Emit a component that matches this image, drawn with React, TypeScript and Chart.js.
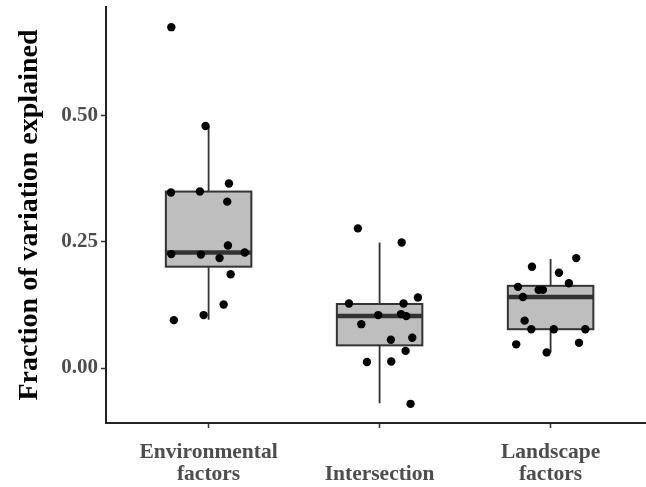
import React, { useEffect, useRef } from 'react';
import { Chart, registerables } from 'chart.js';

Chart.register(...registerables);

// ---- Data ----
const categories = ['Environmental\nfactors', '\nIntersection', 'Landscape\nfactors'];
const categoryPositions = [1, 2, 3];
const yTickValues = [0, 0.25, 0.5];

// box statistics per category
const boxQ1 = [0.201, 0.045, 0.077];
const boxMedian = [0.229, 0.103, 0.141];
const boxQ3 = [0.35, 0.127, 0.163];
const whiskerLow = [0.096, -0.07, 0.031];
const whiskerHigh = [0.48, 0.249, 0.216];

// jittered points (x = jittered category position, y = value)
const envX = [0.782, 0.982, 1.119, 0.78, 0.949, 1.109, 1.113, 0.782, 0.955, 1.211, 1.064, 1.129, 1.088, 0.971, 0.797];
const envY = [0.676, 0.48, 0.366, 0.348, 0.35, 0.33, 0.243, 0.226, 0.225, 0.229, 0.218, 0.186, 0.126, 0.105, 0.095];

const interX = [1.873, 2.129, 2.224, 1.821, 2.14, 1.992, 2.125, 2.156, 1.893, 2.191, 2.066, 2.152, 1.926, 2.068, 2.181];
const interY = [0.277, 0.249, 0.14, 0.128, 0.128, 0.105, 0.107, 0.103, 0.087, 0.06, 0.056, 0.034, 0.012, 0.013, -0.071];

const landX = [3.15, 2.891, 3.049, 3.107, 2.809, 2.93, 2.955, 2.838, 2.848, 2.887, 3.019, 3.203, 2.799, 3.166, 2.977];
const landY = [0.218, 0.201, 0.189, 0.168, 0.161, 0.155, 0.155, 0.141, 0.094, 0.077, 0.077, 0.077, 0.047, 0.05, 0.031];

const toPoints = (xs: number[], ys: number[]) => xs.map((x, i) => ({ x, y: ys[i] }));

const FONT = "'Liberation Serif', 'Times New Roman', serif";
const BOX_HALF = 0.25;

const boxPlugin = {
  id: 'boxes',
  beforeDatasetsDraw(chart: any) {
    const { ctx } = chart;
    const xs = chart.scales.x;
    const ys = chart.scales.y;
    ctx.save();
    categoryPositions.forEach((c, i) => {
      const xc = xs.getPixelForValue(c);
      const xl = xs.getPixelForValue(c - BOX_HALF);
      const xr = xs.getPixelForValue(c + BOX_HALF);
      const yq1 = ys.getPixelForValue(boxQ1[i]);
      const yq3 = ys.getPixelForValue(boxQ3[i]);
      const ymed = ys.getPixelForValue(boxMedian[i]);
      const ylo = ys.getPixelForValue(whiskerLow[i]);
      const yhi = ys.getPixelForValue(whiskerHigh[i]);
      ctx.strokeStyle = '#333333';
      ctx.lineWidth = 1.8;
      ctx.beginPath();
      ctx.moveTo(xc, yhi);
      ctx.lineTo(xc, yq3);
      ctx.moveTo(xc, yq1);
      ctx.lineTo(xc, ylo);
      ctx.stroke();
      ctx.fillStyle = '#BEBEBE';
      ctx.fillRect(xl, yq3, xr - xl, yq1 - yq3);
      ctx.lineWidth = 2;
      ctx.strokeRect(xl, yq3, xr - xl, yq1 - yq3);
      ctx.lineWidth = 4.5;
      ctx.beginPath();
      ctx.moveTo(xl, ymed);
      ctx.lineTo(xr, ymed);
      ctx.stroke();
    });
    ctx.restore();
  },
};

export default function App() {
  const ref = useRef<HTMLCanvasElement | null>(null);

  useEffect(() => {
    if (!ref.current) return;
    const pointStyle = {
      backgroundColor: '#000000',
      borderColor: '#000000',
      pointRadius: 4.2,
      pointBorderWidth: 0,
    };
    const chart = new Chart(ref.current, {
      type: 'scatter',
      data: {
        datasets: [
          { label: 'Environmental factors', data: toPoints(envX, envY), ...pointStyle },
          { label: 'Intersection', data: toPoints(interX, interY), ...pointStyle },
          { label: 'Landscape factors', data: toPoints(landX, landY), ...pointStyle },
        ],
      },
      options: {
        responsive: false,
        animation: false,
        devicePixelRatio: 1,
        layout: { autoPadding: false, padding: { top: 7, right: 0, bottom: 0, left: 0 } },
        plugins: {
          legend: { display: false },
          tooltip: { enabled: false },
        },
        scales: {
          x: {
            type: 'linear',
            min: 0.4,
            max: 0.4 + 540 / 171,
            afterBuildTicks: (scale: any) => {
              scale.ticks = categoryPositions.map((v) => ({ value: v }));
            },
            afterFit: (scale: any) => {
              scale.height = 64;
              scale.paddingLeft = 0;
              scale.paddingRight = 0;
            },
            grid: {
              drawOnChartArea: false,
              drawTicks: true,
              tickLength: 5,
              tickWidth: 1.5,
              tickColor: '#333333',
            },
            border: { display: true, color: '#222222', width: 2 },
            ticks: {
              autoSkip: false,
              maxRotation: 0,
              padding: 14,
              color: '#4D4D4D',
              font: { family: FONT, size: 21.5, weight: 'bold', lineHeight: 1.0 },
              callback: (_v: any, i: number) => categories[i].split('\n'),
            },
          },
          y: {
            type: 'linear',
            min: -0.109,
            max: 0.716,
            afterBuildTicks: (scale: any) => {
              scale.ticks = yTickValues.map((v) => ({ value: v }));
            },
            afterFit: (scale: any) => {
              scale.width = 106;
              scale.paddingTop = 0;
              scale.paddingBottom = 0;
            },
            grid: {
              drawOnChartArea: false,
              drawTicks: true,
              tickLength: 5,
              tickWidth: 1.5,
              tickColor: '#333333',
            },
            border: { display: true, color: '#222222', width: 2 },
            title: {
              display: true,
              text: 'Fraction of variation explained',
              color: '#000000',
              font: { family: FONT, size: 28, weight: 'bold', lineHeight: 1.2 },
              padding: { top: 13, bottom: 0 },
            },
            ticks: {
              padding: 3,
              color: '#4D4D4D',
              font: { family: FONT, size: 21, weight: 'bold' },
              callback: (v: any) => Number(v).toFixed(2),
            },
          },
        },
      },
      plugins: [boxPlugin],
    });
    return () => chart.destroy();
  }, []);

  return (
    <div style={{ position: 'fixed', left: 0, top: 0, width: 646, height: 487, background: '#ffffff' }}>
      <canvas ref={ref} width={646} height={487} style={{ display: 'block' }} />
    </div>
  );
}
